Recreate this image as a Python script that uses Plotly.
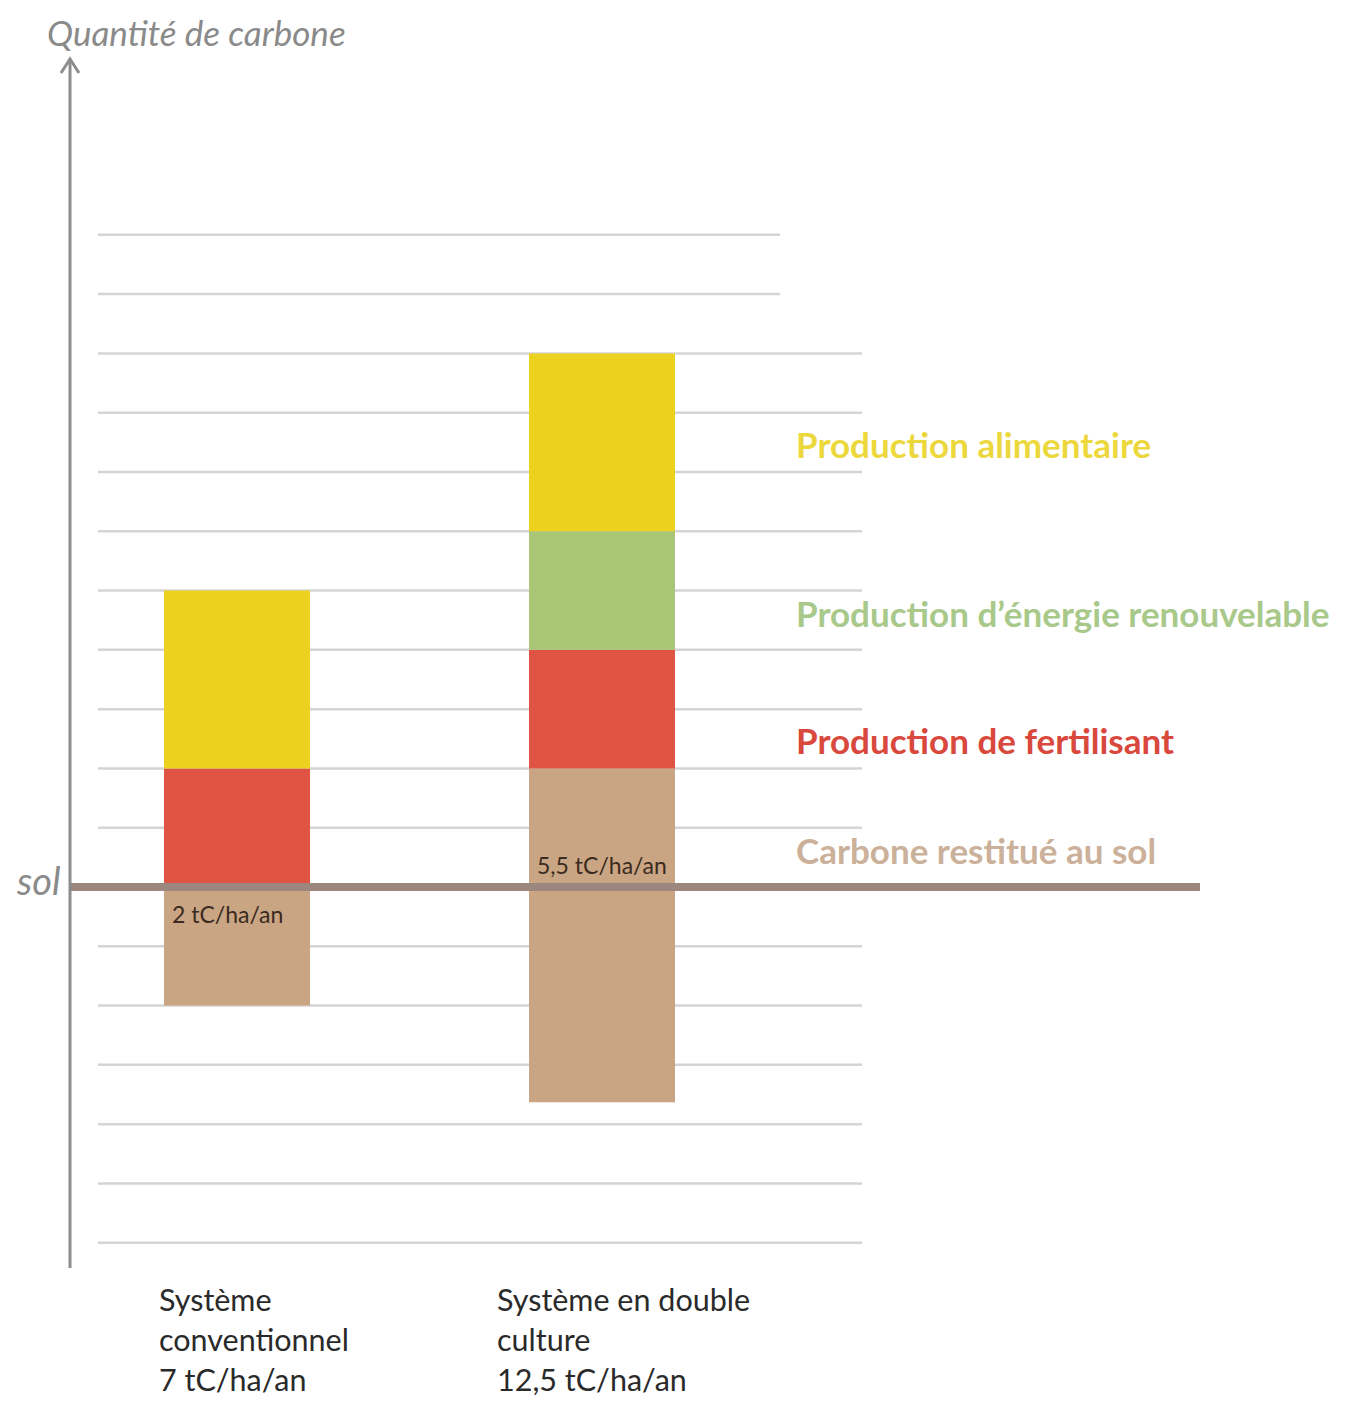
import plotly.graph_objects as go

# ---- data ----
systemes = ["Système conventionnel", "Système en double culture"]
totaux = ["7 tC/ha/an", "12,5 tC/ha/an"]
etiquettes_sol = ["2 tC/ha/an", "5,5 tC/ha/an"]
carbone_sol = [2.0, 5.63]     # carbone restitué au sol (hauteur)
enfoui = [2.0, 3.63]          # part située sous le niveau du sol
fertilisant = [2.0, 2.0]
energie = [0.0, 2.0]
alimentaire = [3.0, 3.0]
niveaux = list(range(-6, 12))  # lignes de la grille (tC/ha/an)

series = [
    ("Carbone restitué au sol", carbone_sol, "#c9a583", "#cbb09a"),
    ("Production de fertilisant", fertilisant, "#e05444", "#d9483c"),
    ("Production d’énergie renouvelable", energie, "#a9c677", "#a8c98a"),
    ("Production alimentaire", alimentaire, "#ecd21f", "#ecd83c"),
]

# page offset of the figure inside the browser window
OFF_X, OFF_Y = 8.0, 7.0
W, H = 1333, 1392
# pixel geometry of the scales (screen pixels)
X0_PX, X_UNIT = 237.0, 365.0
Y0_PX, Y_UNIT = 886.0, 59.29
x_range = [-(X0_PX - OFF_X) / X_UNIT, (W - (X0_PX - OFF_X)) / X_UNIT]
y_range = [-(H - (Y0_PX - OFF_Y)) / Y_UNIT, (Y0_PX - OFF_Y) / Y_UNIT]


def px_x(p):
    return (p - X0_PX) / X_UNIT


def px_y(p):
    return (Y0_PX - p) / Y_UNIT


FONT = "Lato"
xpos = list(range(len(systemes)))

fig = go.Figure()
shapes = []

# grid lines
for lv in niveaux:
    if lv == 0:
        continue
    x_end = 780 if lv >= 10 else 862
    shapes.append(dict(type="line", xref="x", yref="y",
                       x0=px_x(98), x1=px_x(x_end), y0=lv, y1=lv,
                       line=dict(color="#d4d4d4", width=2.5), layer="below"))

# bars (stacked with explicit bases)
base = [-e for e in enfoui]
for name, vals, col, _ in series:
    fig.add_trace(go.Bar(x=xpos, y=vals, base=list(base), width=0.4,
                         marker=dict(color=col, line=dict(width=0)),
                         name=name, hoverinfo="name+y"))
    base = [b + v for b, v in zip(base, vals)]

# sol line
shapes.append(dict(type="line", xref="x", yref="y",
                   x0=px_x(70), x1=px_x(1200), y0=0, y1=0,
                   line=dict(color="#9b877d", width=8), layer="above"))
# vertical axis with arrow
shapes.append(dict(type="line", xref="x", yref="y",
                   x0=px_x(70), x1=px_x(70), y0=px_y(1267), y1=px_y(58),
                   line=dict(color="#8c8c8c", width=3), layer="above"))
shapes.append(dict(type="path", xref="x", yref="y",
                   path=f"M {px_x(61)},{px_y(72)} L {px_x(70)},{px_y(58)} L {px_x(79)},{px_y(72)}",
                   line=dict(color="#8c8c8c", width=3), layer="above"))

ann = []
ann.append(dict(x=px_x(45), y=px_y(31), text="<i>Quantité de carbone</i>",
                xanchor="left", yanchor="middle", showarrow=False,
                font=dict(family=FONT, size=35, color="#8a8a8a")))
ann.append(dict(x=px_x(14), y=px_y(879), text="<i>sol</i>",
                xanchor="left", yanchor="middle", showarrow=False,
                font=dict(family=FONT, size=38, color="#8a8a8a")))

# legend-like labels
label_y = {"Production alimentaire": 443, "Production d’énergie renouvelable": 612,
           "Production de fertilisant": 739, "Carbone restitué au sol": 849}
for name, vals, col, tcol in series:
    ann.append(dict(x=px_x(794), y=px_y(label_y[name]), text=f"<b>{name}</b>",
                    xanchor="left", yanchor="middle", showarrow=False,
                    font=dict(family=FONT, size=35, color=tcol)))

# values inside bars
ann.append(dict(x=xpos[0] - 0.027, y=px_y(913), text=etiquettes_sol[0],
                xanchor="center", yanchor="middle", showarrow=False,
                font=dict(family=FONT, size=23, color="#3b2a20")))
ann.append(dict(x=xpos[1], y=px_y(864), text=etiquettes_sol[1],
                xanchor="center", yanchor="middle", showarrow=False,
                font=dict(family=FONT, size=23, color="#3b2a20")))

# category labels
cat_lines = [["Système", "conventionnel", totaux[0]],
             ["Système en double", "culture", totaux[1]]]
cat_left = [157, 495]
for i, lines in enumerate(cat_lines):
    for j, t in enumerate(lines):
        ann.append(dict(x=px_x(cat_left[i]), y=px_y(1298 + 40 * j), text=t,
                        xanchor="left", yanchor="middle", showarrow=False,
                        font=dict(family=FONT, size=30.5, color="#2a2a2a")))

fig.update_layout(
    width=W, height=H,
    margin=dict(l=0, r=0, t=0, b=0),
    paper_bgcolor="white", plot_bgcolor="white",
    showlegend=False, barmode="overlay",
    xaxis=dict(range=x_range, visible=False, fixedrange=True),
    yaxis=dict(range=y_range, visible=False, fixedrange=True),
    shapes=shapes, annotations=ann,
)

fig.write_html("out.html")
